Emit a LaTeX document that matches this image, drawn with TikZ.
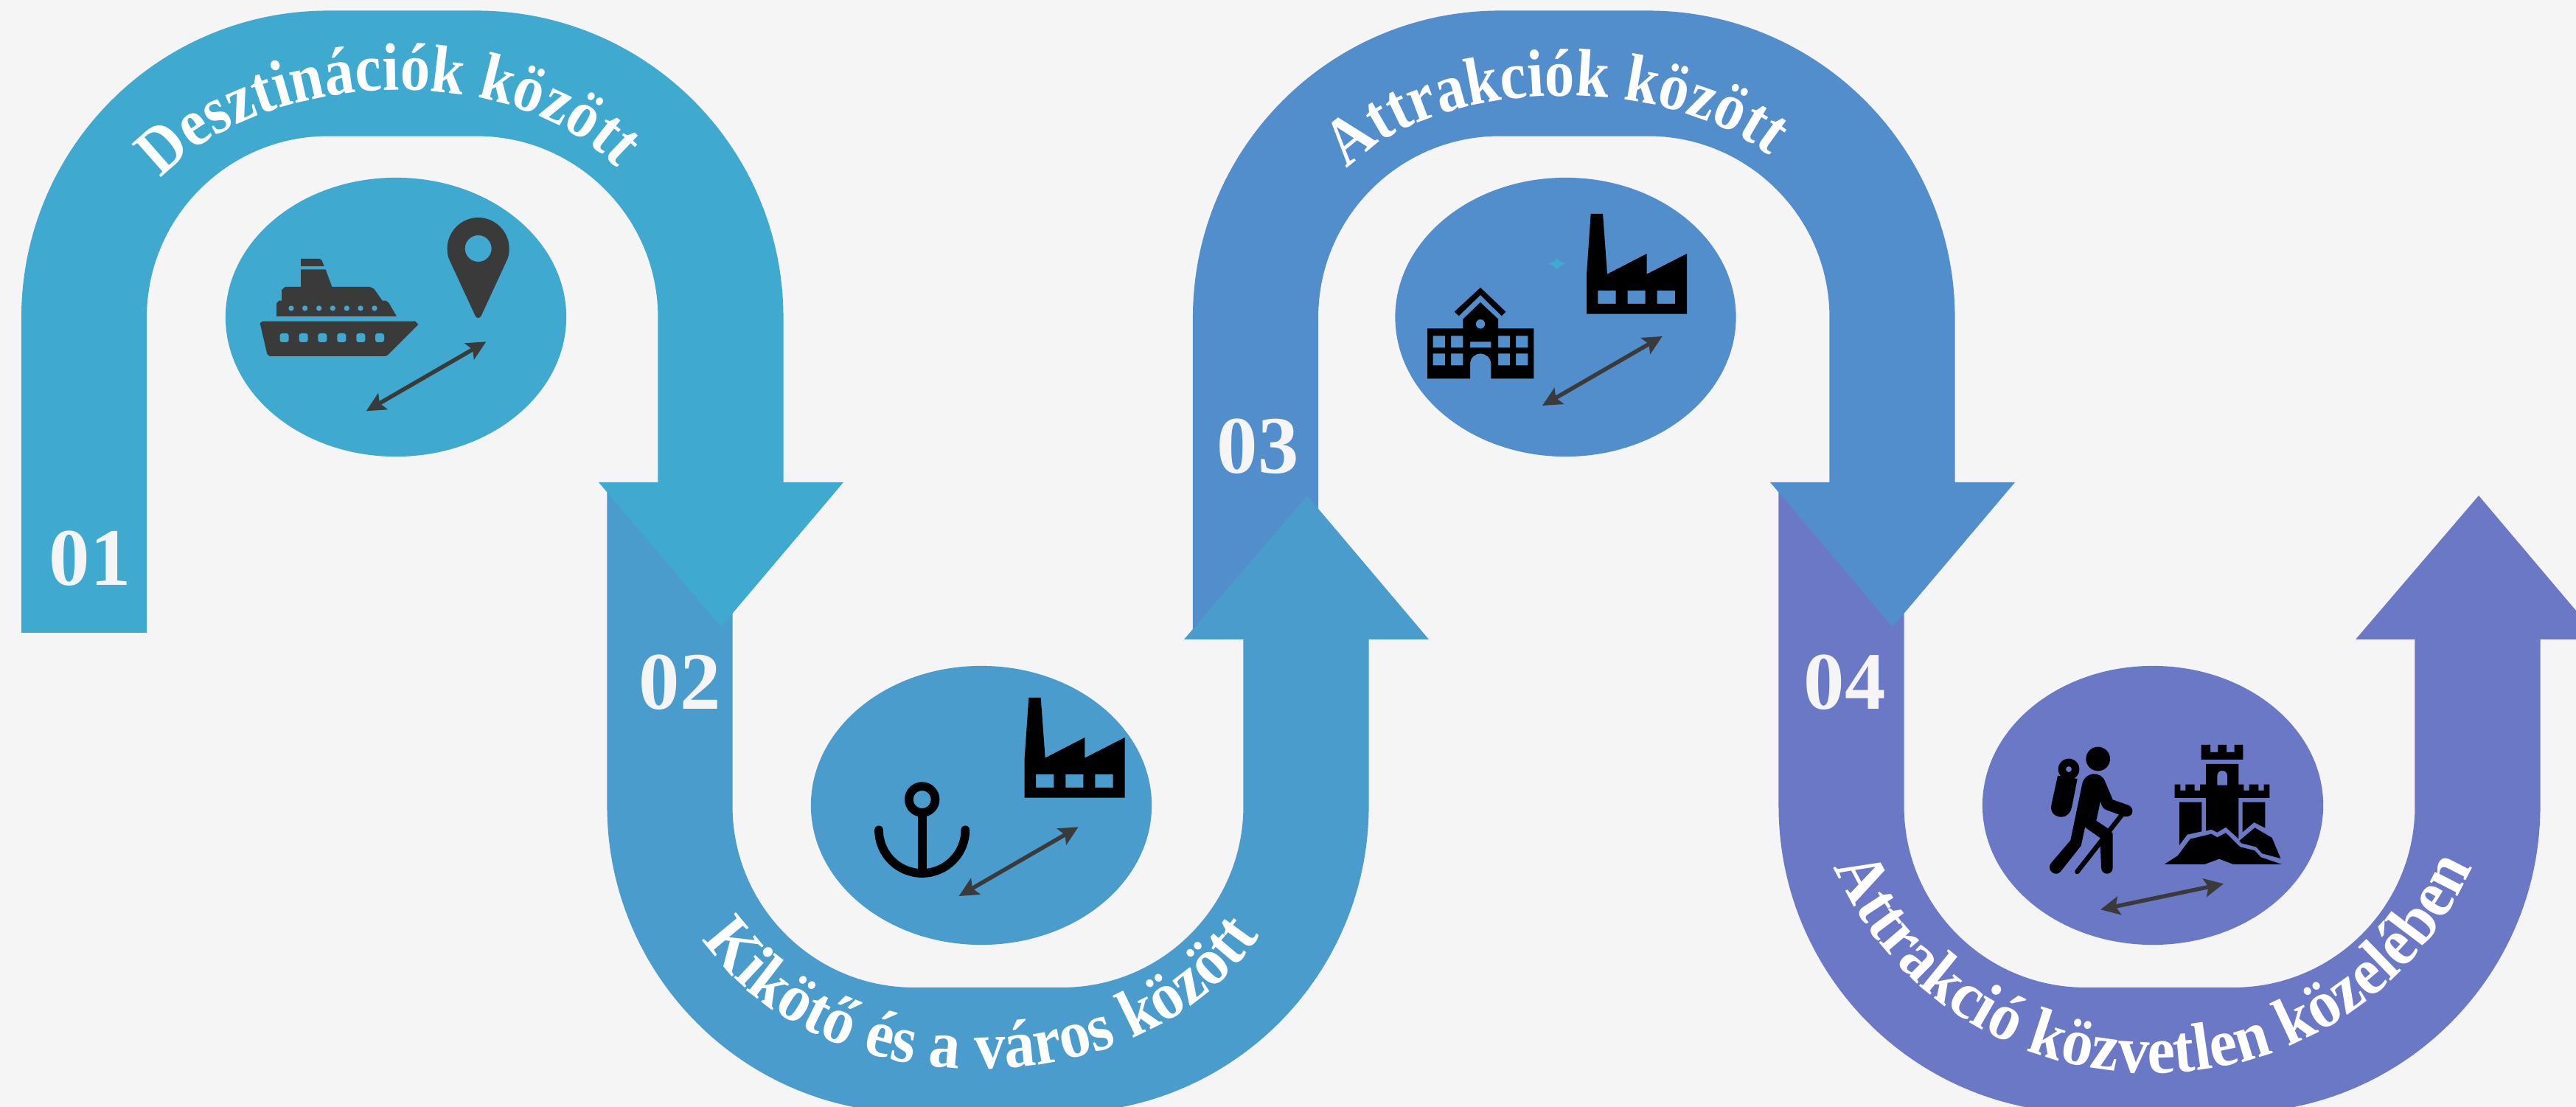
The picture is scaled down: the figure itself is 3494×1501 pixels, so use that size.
\documentclass[tikz,border=0pt]{standalone}
\usepackage{fontspec}
\setmainfont{Liberation Serif}
\newfontface\labelface[FakeStretch=0.885]{Liberation Serif Bold}
\newfontface\labelfacewide[FakeStretch=0.925]{Liberation Serif Bold}
\usetikzlibrary{shapes.geometric,arrows.meta,decorations.text}

\definecolor{pagebg}{HTML}{F5F5F5}
\definecolor{stepone}{HTML}{3FA9D0}
\definecolor{steptwo}{HTML}{4A9CCC}
\definecolor{stepthree}{HTML}{528ECC}
\definecolor{stepfour}{HTML}{6A78C6}
\definecolor{icondark}{HTML}{3A3A3A}

\newcommand{\labelfont}{\labelface\fontsize{26}{26}\selectfont\color{white}}
\newcommand{\labelfontwide}{\labelfacewide\fontsize{26}{26}\selectfont\color{white}}

\tikzset{
  band/.style={line width=1.7cm, rounded corners=3.31cm},
  blob/.style={ellipse, minimum width=4.62cm, minimum height=3.78cm, inner sep=0pt},
  numlabel/.style={font=\bfseries\fontsize{31.5}{32}\selectfont, text=pagebg, inner sep=0pt},
  linkarrow/.style={icondark, line width=0.055cm,
    {Stealth[length=0.26cm,width=0.25cm,inset=0.05cm]}-{Stealth[length=0.26cm,width=0.25cm,inset=0.05cm]}},
  factoryicon/.pic={
    \fill[black, even odd rule] (0,0)--(0,-160)--(17,-407)--(66,-407)--(84,-162)--(245,-245)--(245,-162)--(408,-245)--(408,0)--cycle
      (46,-95) rectangle (119,-41) (167,-95) rectangle (239,-41) (287,-95) rectangle (360,-41);
  }
}

\begin{document}
\begin{tikzpicture}[x=0.01cm, y=-0.01cm]
    \useasboundingbox (0,0) rectangle (3494,1501);
    \clip (0,0) rectangle (3494,1501);
    \fill[pagebg] (0,0) rectangle (3494,1501);

    % bands, last one first so each head lies on the next band
    \draw[band, stepfour] (2497.5,668)--(2497.5,1424)--(3360.5,1424)--(3360.5,867);
    \fill[stepfour] (3195,867)--(3527,867)--(3362,672)--cycle;
    \draw[band, stepthree] (1703,858)--(1703,99.5)--(2566.5,99.5)--(2566.5,660);
    \fill[stepthree] (2401,654)--(2733,654)--(2567,850)--cycle;
    \draw[band, steptwo] (908.5,668)--(908.5,1424)--(1771.5,1424)--(1771.5,867);
    \fill[steptwo] (1606,867)--(1938,867)--(1773,672)--cycle;
    \draw[band, stepone] (114,858)--(114,99.5)--(977.5,99.5)--(977.5,660);
    \fill[stepone] (812,654)--(1144,654)--(978,850)--cycle;

    \node[blob, fill=stepone] (blobone) at (537,430) {};
    \node[blob, fill=steptwo] (blobtwo) at (1331,1092) {};
    \node[blob, fill=stepthree] (blobthree) at (2123.5,430) {};
    \node[blob, fill=stepfour] (blobfour) at (2920,1092) {};

    \node[numlabel] (numone) at (122,757) {01};
    \node[numlabel] (numtwo) at (922,925) {02};
    \node[numlabel] (numthree) at (1706,605) {03};
    \node[numlabel] (numfour) at (2502,925) {04};

    \path[decorate, decoration={text along path, text align=center, text={|\labelfont|Desztinációk között}}]
        (200,265) .. controls (330,85) and (720,70) .. (855,250);
    \path[decorate, decoration={text along path, text align=center, text={|\labelfontwide|Kikötő és a város között}}]
        (925,1225) .. controls (1060,1525) and (1600,1525) .. (1735,1220);
    \path[decorate, decoration={text along path, text align=center, text={|\labelfont|Attrakciók között}}]
        (1815,245) .. controls (1930,95) and (2280,95) .. (2415,225);
    \path[decorate, decoration={text along path, text align=center, text={|\labelfontwide|Attrakció közvetlen közelében}}]
        (2460,1105) .. controls (2600,1572) and (3240,1572) .. (3380,1105);

    % ship and pin
    \begin{scope}[shift={(280,220)}, scale=1/3]
        \fill[icondark] (218,655)--(228,647)--(850,647)--(862,660)--(740,782)--(730,789)--(258,789)--(247,780)--cycle;
        \fill[stepone, rounded corners=0.03cm] (299,696) rectangle (335,732) (377,696) rectangle (413,732)
            (454,696) rectangle (490,732) (532,696) rectangle (568,732) (610,696) rectangle (646,732) (687,696) rectangle (723,732);
        \fill[icondark] (285,627)--(285,575)--(295,563)--(306,563)--(306,520)--(320,507)--(384,507)--(384,436)--(485,436)--(511,507)
            --(665,507)--(682,515)--(716,563)--(730,563)--(742,572)--(774,627)--cycle;
        \fill[stepone] (345,594) circle (11) (401,594) circle (11) (458,594) circle (11) (514,594) circle (11)
            (571,594) circle (11) (627,594) circle (11) (684,594) circle (11);
        \fill[icondark] (384,393)--(462,393)--(470,400)--(479,423)--(384,423)--cycle;
        \fill[icondark, even odd rule] (990,400) .. controls (982,385) and (980,368) .. (980,351)
            .. controls (980,282) and (1037,225) .. (1106,225) .. controls (1175,225) and (1232,282) .. (1232,351)
            .. controls (1232,368) and (1230,385) .. (1222,400) -- (1118,625) .. controls (1112,636) and (1100,636) .. (1094,625) -- cycle
            (1106,351) circle (54);
        \coordinate (shipend) at (650,1012);
        \coordinate (pinend) at (1138,730);
        \draw[linkarrow] (shipend)--(pinend);
    \end{scope}

    % anchor and factory
    \begin{scope}[shift={(1080,900)}, scale=1/3]
        \draw[black, line width=0.117cm] (512,552) circle (53.5);
        \draw[black, line width=0.117cm] (512,620)--(512,855);
        \draw[black, line width=0.117cm, line cap=round] (336,676) arc (180:0:176);
        \pic[transform shape] at (929,545) {factoryicon};
        \coordinate (anchorend) at (662,945);
        \coordinate (factoryend) at (1148,664);
        \draw[linkarrow] (anchorend)--(factoryend);
    \end{scope}

    % school and factory
    \begin{scope}[shift={(1880,220)}, scale=1/3]
        \fill[black, even odd rule] (168,880)--(168,676)--(313,676)--(313,638)--(384,570)--(456,638)--(456,676)--(601,676)--(601,880)--(427,880)--(427,820)
            .. controls (427,795) and (405,778) .. (384,778) .. controls (363,778) and (342,795) .. (342,820) -- (342,880) -- cycle
            (191,706) rectangle (240,754) (264,706) rectangle (313,754) (456,706) rectangle (504,754) (528,706) rectangle (577,754)
            (191,778) rectangle (240,826) (264,778) rectangle (313,826) (456,778) rectangle (504,826) (528,778) rectangle (577,826)
            (342,730) rectangle (427,754) (384,658) circle (19);
        \fill[black] (278,608)--(384,510)--(487,608)--(470,625)--(384,540)--(296,625)--cycle;
        \fill[stepone] (660,412)--(685,402)--(695,390)--(705,402)--(730,412)--(705,425)--(695,436)--(685,425)--cycle;
        \pic[transform shape] at (816,617) {factoryicon};
        \coordinate (schoolend) at (636,990);
        \coordinate (plantend) at (1124,708);
        \draw[linkarrow] (schoolend)--(plantend);
    \end{scope}

    % hiker and castle
    \begin{scope}[shift={(2680,900)}, scale=1/3]
        \fill[black] (497,387) circle (49);
        \fill[black, even odd rule] (378,429) circle (43) (378,429) circle (12);
        \fill[black] (333,455)--(307,575) .. controls (300,610) and (330,625) .. (350,623) .. controls (372,622) and (385,605) .. (390,585)--(413,468)--cycle;
        \fill[black] (433,487)--(385,718)--(305,812) .. controls (285,840) and (325,870) .. (345,845)--(428,740)--(444,665)--(505,708)--(510,830)
            .. controls (512,862) and (555,862) .. (557,830)--(557,690)--(537,670)--(490,638)--(507,558) .. controls (512,585) and (522,592) .. (532,595)
            --(605,622) .. controls (645,625) and (645,585) .. (620,575)--(557,553)--(524,475) .. controls (505,435) and (445,440) .. (433,487)--cycle;
        \draw[black, line width=0.065cm, line cap=round] (596,612)--(412,846);
        \fill[black] (917,330)--(954,330)--(954,360)--(985,360)--(985,330)--(1020,330)--(1020,360)--(1052,360)--(1052,330)--(1087,330)--(1087,390)--(917,390)--cycle;
        \fill[black, even odd rule] (936,408)--(1069,408)--(1069,712)--(1017,665)--(982,686)--(958,674)--(936,680)--cycle
            (982,494)--(982,455) .. controls (982,428) and (1023,428) .. (1023,455) -- (1023,494) -- cycle;
        \fill[black] (809,491)--(832,491)--(832,516)--(853,516)--(853,491)--(890,491)--(890,516)--(912,516)--(912,491)--(937,491)--(937,546)--(809,546)--cycle;
        \fill[black] (1068,491)--(1090,491)--(1090,516)--(1112,516)--(1112,491)--(1150,491)--(1150,516)--(1172,516)--(1172,491)--(1195,491)--(1195,546)--(1068,546)--cycle;
        \fill[black] (828,563)--(919,563)--(919,682)--(860,695)--(828,738)--cycle;
        \fill[black] (1085,563)--(1177,563)--(1177,668)--(1132,645)--(1085,685)--cycle;
        \fill[black] (767,816)--(822,780)--(872,713)--(958,692)--(982,706)--(1017,688)--(1075,745)--(1135,760)--(1160,787)--(1245,816)--(1048,816)--(990,794)--(930,816)--cycle;
        \fill[black] (1072,720)--(1135,667)--(1205,708)--(1240,792)--(1165,772)--(1140,745)--(1080,730)--cycle;
        \coordinate (hikerend) at (507,1000);
        \coordinate (castleend) at (1008,895);
        \draw[linkarrow] (hikerend)--(castleend);
    \end{scope}
\end{tikzpicture}
\end{document}
